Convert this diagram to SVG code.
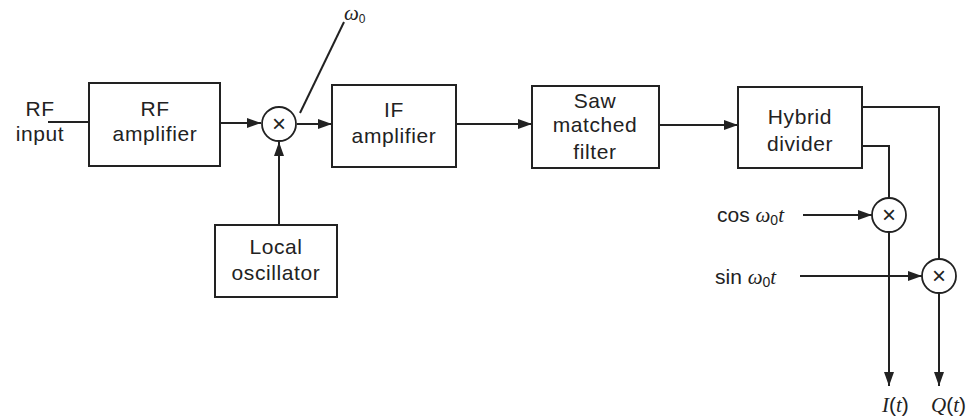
<svg xmlns="http://www.w3.org/2000/svg" width="974" height="419" viewBox="0 0 974 419">
<style>
.box{fill:#fff;stroke:#222;stroke-width:2}
.mix{fill:#fff;stroke:#222;stroke-width:1.8}
.ln{fill:none;stroke:#222;stroke-width:2}
.t{font-family:"Liberation Sans",Arial,sans-serif;font-size:21px;fill:#222;text-anchor:middle;letter-spacing:0.6px}
.s{font-family:"Liberation Sans",Arial,sans-serif;font-size:21px;fill:#222}
.i{font-family:"Liberation Serif","Times New Roman",serif;font-style:italic}
.x{font-family:"Liberation Sans",Arial,sans-serif;font-size:24px;fill:#222;text-anchor:middle}
</style>
<defs>
<marker id="ah" markerWidth="14" markerHeight="10" refX="14" refY="5" orient="auto" markerUnits="userSpaceOnUse">
<path d="M0,0 L14,5 L0,10 Z" fill="#222"/>
</marker>
</defs>
<rect width="974" height="419" fill="#fff"/>
<g id="connectors">
<line class="ln" x1="48" y1="122" x2="89" y2="122"/>
<line class="ln" x1="220" y1="123" x2="261" y2="123" marker-end="url(#ah)"/>
<line class="ln" x1="297" y1="124" x2="332" y2="124" marker-end="url(#ah)"/>
<line class="ln" x1="300" y1="113" x2="344" y2="22"/>
<line class="ln" x1="279" y1="225" x2="279" y2="142" marker-end="url(#ah)"/>
<line class="ln" x1="456" y1="124" x2="532" y2="124" marker-end="url(#ah)"/>
<line class="ln" x1="659" y1="125" x2="738" y2="125" marker-end="url(#ah)"/>
<polyline class="ln" points="862,107 939,107 939,259"/>
<polyline class="ln" points="862,146 889,146 889,198"/>
<line class="ln" x1="803" y1="215" x2="872" y2="215" marker-end="url(#ah)"/>
<line class="ln" x1="800" y1="276" x2="922" y2="276" marker-end="url(#ah)"/>
<line class="ln" x1="889" y1="232" x2="889" y2="386" marker-end="url(#ah)"/>
<line class="ln" x1="939" y1="293" x2="939" y2="386" marker-end="url(#ah)"/>
</g>
<g id="rf-input">
<text class="t" x="40" y="116">RF</text>
<text class="t" x="40" y="141">input</text>
</g>
<g id="rf-amplifier">
<rect class="box" x="89" y="83" width="131" height="83"/>
<text class="t" x="155" y="116">RF</text>
<text class="t" x="155" y="141">amplifier</text>
</g>
<g id="mixer1">
<circle class="mix" cx="279" cy="124" r="17"/>
<text class="x" x="279" y="132">×</text>
</g>
<g id="omega0">
<text class="s" x="344" y="20" font-size="18"><tspan class="i">ω</tspan><tspan font-size="12" dy="3">0</tspan></text>
</g>
<g id="local-oscillator">
<rect class="box" x="215" y="225" width="122" height="72"/>
<text class="t" x="276" y="254">Local</text>
<text class="t" x="276" y="280">oscillator</text>
</g>
<g id="if-amplifier">
<rect class="box" x="332" y="85" width="124" height="82"/>
<text class="t" x="394" y="117">IF</text>
<text class="t" x="394" y="143">amplifier</text>
</g>
<g id="saw-filter">
<rect class="box" x="532" y="86" width="127" height="82"/>
<text class="t" x="595" y="108">Saw</text>
<text class="t" x="595" y="132">matched</text>
<text class="t" x="595" y="159">filter</text>
</g>
<g id="hybrid-divider">
<rect class="box" x="738" y="87" width="124" height="81"/>
<text class="t" x="800" y="124">Hybrid</text>
<text class="t" x="800" y="151">divider</text>
</g>
<g id="mixer-i">
<circle class="mix" cx="889" cy="215" r="17"/>
<text class="x" x="889" y="223">×</text>
</g>
<g id="mixer-q">
<circle class="mix" cx="939" cy="276" r="17"/>
<text class="x" x="939" y="284">×</text>
</g>
<g id="cos-label">
<text class="s" x="717" y="222" font-size="22">cos <tspan class="i">ω</tspan><tspan font-size="14" dy="3">0</tspan><tspan class="i" dy="-3">t</tspan></text>
</g>
<g id="sin-label">
<text class="s" x="715" y="284" font-size="22">sin <tspan class="i">ω</tspan><tspan font-size="14" dy="3">0</tspan><tspan class="i" dy="-3">t</tspan></text>
</g>
<g id="i-out">
<text class="s" x="882" y="412"><tspan class="i">I</tspan>(<tspan class="i">t</tspan>)</text>
</g>
<g id="q-out">
<text class="s" x="931" y="412"><tspan class="i">Q</tspan>(<tspan class="i">t</tspan>)</text>
</g>
</svg>
